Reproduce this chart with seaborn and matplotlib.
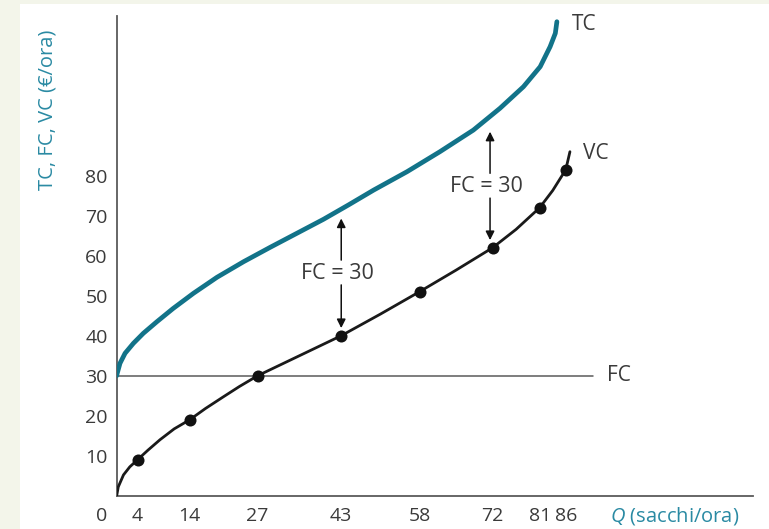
import matplotlib
matplotlib.use("Agg")
import matplotlib.pyplot as plt
from matplotlib.patches import Rectangle
import pandas as pd
import seaborn as sns

sns.set_style("white")
plt.rcParams['font.family'] = ['Open Sans', 'DejaVu Sans']
plt.rcParams['mathtext.fontset'] = 'custom'
plt.rcParams['mathtext.it'] = 'Open Sans:italic'

TEAL = '#127389'
TEAL_TEXT = '#2a8aa3'
AXIS_GREY = '#5a5a5a'

# marked points of the variable cost curve
q_points = [4, 14, 27, 43, 58, 72, 81, 86]
vc_points = [9, 19, 30, 40, 51, 62, 72, 81.5]

# variable cost curve
q_vc = [0, 0.3, 1.3, 2.5, 4, 6, 8.3, 11, 14, 17, 20.4, 23.5, 27, 35, 43, 50.5, 58,
        65, 72, 76.5, 81, 83.5, 86, 86.8]
vc = [0, 2.2, 5.2, 7.2, 9, 11.4, 14, 16.7, 19, 21.8, 24.7, 27.3, 30, 35, 40, 45.4, 51,
      56.4, 62, 66.6, 72, 76.3, 81.5, 86]

# total cost curve
q_tc = [0, 0.1, 0.63, 1.6, 3.2, 5.1, 7.7, 10.8, 14.7, 19.2, 24.3, 29.4, 34.5, 39.6,
        44.4, 49.2, 55.6, 61.9, 68.3, 73.4, 77.9, 81.1, 83, 84, 84.3]
tc = [30, 30.6, 33.1, 35.6, 38.1, 40.6, 43.5, 46.8, 50.6, 54.6, 58.5, 62.1, 65.6, 69.1,
      72.7, 76.4, 81, 86, 91.4, 96.85, 102.25, 107.25, 112.25, 115.6, 118.5]

fixed_cost = 30
fc_end = 91.3

x_ticks = [4, 14, 27, 43, 58, 72, 81, 86]
y_ticks = [10, 20, 30, 40, 50, 60, 70, 80]

# FC = 30 gaps: q, (tail, tip) of up arrow, (tail, tip) of down arrow, label position
gap_q = [43, 71.5]
gap_up = [(58.9, 69.3), (80.6, 91)]
gap_down = [(52.7, 41.9), (74.4, 63.9)]
gap_label = [(42.3, 55.6), (70.9, 77.4)]

fig = plt.figure(figsize=(7.69, 5.29), dpi=100)
fig.patch.set_facecolor('white')
fig.patches.append(Rectangle((0, 0), 20 / 769, 1, transform=fig.transFigure,
                             facecolor='#f3f5ea', edgecolor='none', zorder=0))
fig.patches.append(Rectangle((0, 1 - 4 / 529), 1, 4 / 529, transform=fig.transFigure,
                             facecolor='#f3f5ea', edgecolor='none', zorder=0))

ax = fig.add_axes([116.7 / 769, 33.3 / 529, 636 / 769, 480 / 529])
ax.set_facecolor('none')

# fixed cost line
ax.plot([0, fc_end], [fixed_cost, fixed_cost], color=AXIS_GREY, lw=1.1, zorder=2)

df_tc = pd.DataFrame({'Q': q_tc, 'TC': tc})
df_vc = pd.DataFrame({'Q': q_vc, 'VC': vc})
df_pts = pd.DataFrame({'Q': q_points, 'VC': vc_points})

sns.lineplot(data=df_tc, x='Q', y='TC', ax=ax, color=TEAL, lw=3.4, sort=False, zorder=3)
sns.lineplot(data=df_vc, x='Q', y='VC', ax=ax, color='#1a1a1a', lw=2.0, sort=False, zorder=3)
sns.scatterplot(data=df_pts, x='Q', y='VC', ax=ax, color='#111111', s=75, linewidth=0, zorder=4)

for q, (ut, uh), (dt, dh), (lx, ly) in zip(gap_q, gap_up, gap_down, gap_label):
    arr = dict(arrowstyle='-|>', color='#111111', lw=1.1, mutation_scale=13, shrinkA=0, shrinkB=0)
    ax.annotate('', xy=(q, uh), xytext=(q, ut), arrowprops=arr)
    ax.annotate('', xy=(q, dh), xytext=(q, dt), arrowprops=arr)
    ax.text(lx, ly, 'FC = 30', ha='center', va='center', fontsize=15.5, color='#3a3a3a')

ax.text(87.2, 117.7, 'TC', ha='left', va='center', fontsize=15, color='#3a3a3a')
ax.text(89.3, 85.6, 'VC', ha='left', va='center', fontsize=15, color='#3a3a3a')
ax.text(93.9, 30, 'FC', ha='left', va='center', fontsize=15, color='#3a3a3a')

ax.set_xlim(0, 121.8)
ax.set_ylim(0, 120)
ax.set_xticks(x_ticks)
ax.set_yticks(y_ticks)
ax.tick_params(axis='both', direction='in', length=14, width=1.1, color=AXIS_GREY,
               labelsize=14, labelcolor='#3a3a3a')
ax.tick_params(axis='x', pad=8)
ax.tick_params(axis='y', pad=6.5)
ax.set_xlabel('')
ax.set_ylabel('')

for side in ['top', 'right']:
    ax.spines[side].set_visible(False)
for side in ['left', 'bottom']:
    ax.spines[side].set_color(AXIS_GREY)
    ax.spines[side].set_linewidth(1.3)

# origin label and axis titles
ax.text(-2.9, -5, '0', ha='center', va='center', fontsize=14, color='#3a3a3a', clip_on=False)
ax.text(94.5, -5, '$Q$ (sacchi/ora)', ha='left', va='center', fontsize=14.5,
        color=TEAL_TEXT, clip_on=False)
ax.text(-13.3, 96.5, 'TC, FC, VC (€/ora)', rotation=90, ha='center', va='center',
        fontsize=14.5, color=TEAL_TEXT, clip_on=False)

fig.savefig('out.png', dpi=100)
